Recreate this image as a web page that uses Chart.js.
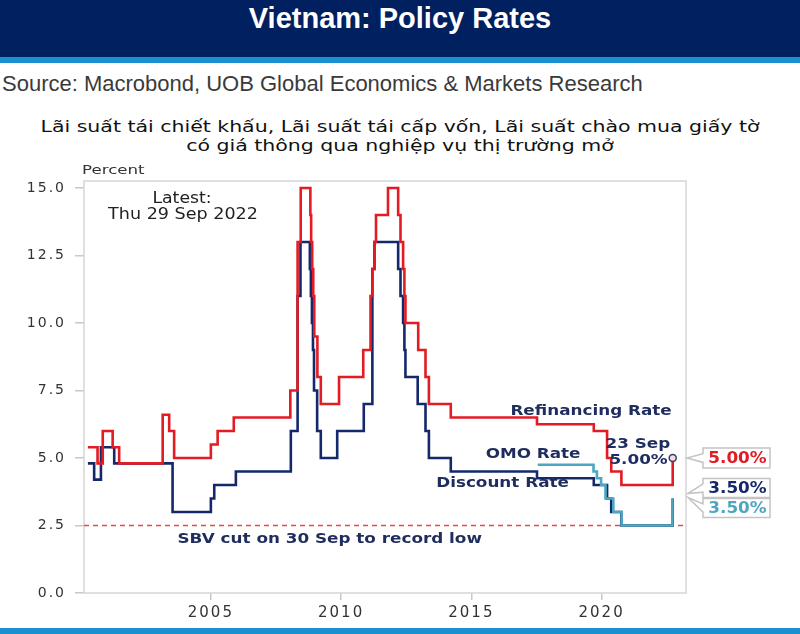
<!DOCTYPE html>
<html>
<head>
<meta charset="utf-8">
<script src="https://cdn.jsdelivr.net/npm/chart.js@4.4.0/dist/chart.umd.min.js"></script>
<style>
  body { margin: 0; width: 800px; height: 634px; overflow: hidden; background: #fff; position: relative; font-family: "Liberation Sans", Arial, sans-serif; }
  #band { position: absolute; left: 0; top: 0; width: 800px; height: 57px; background: #002060; }
  #stripe { position: absolute; left: 0; top: 57px; width: 800px; height: 6px; background: #1b8fd1; }
  #foot { position: absolute; left: 0; top: 628px; width: 800px; height: 6px; background: #1b8fd1; }
  #title { position: absolute; left: 0; top: 0; width: 800px; height: 36px; line-height: 36px; text-align: center; color: #fff; font-weight: bold; font-size: 29px; }
  #source { position: absolute; left: 2px; top: 71px; font-size: 22px; line-height: 26px; color: #3a3a3a; white-space: nowrap; }
  #subtitle { position: absolute; left: 0; top: 117px; width: 800px; text-align: center; font-family: "DejaVu Sans", sans-serif; font-size: 16px; line-height: 19px; color: #111; transform: scaleX(1.28); transform-origin: 400px 0; }
  #wrap { position: absolute; left: 0; top: 0; width: 800px; height: 634px; }
</style>
</head>
<body>
<div id="band"></div>
<div id="stripe"></div>
<div id="foot"></div>
<div id="title">Vietnam: Policy Rates</div>
<div id="source">Source: Macrobond, UOB Global Economics &amp; Markets Research</div>
<div id="subtitle">Lãi suất tái chiết khấu, Lãi suất tái cấp vốn, Lãi suất chào mua giấy tờ<br>có giá thông qua nghiệp vụ thị trường mở</div>
<div id="wrap"><canvas id="chart"></canvas></div>
<script>
// change dates (decimal years) and the rate set on that date, in percent
const refiDates = [2000.28, 2000.65, 2000.85, 2001.23, 2001.48, 2003.15, 2003.40, 2003.59, 2005.00, 2005.26, 2005.88,
  2008.05, 2008.33, 2008.45, 2008.82, 2008.85, 2008.89, 2008.93, 2008.97, 2009.09, 2009.22, 2009.92, 2010.85,
  2011.13, 2011.20, 2011.28, 2011.34, 2011.80, 2012.19, 2012.28, 2012.38, 2012.43, 2012.47, 2012.96, 2013.24,
  2013.37, 2014.21, 2017.52, 2019.70, 2020.21, 2020.37, 2020.76, 2022.73];
const refiRates = [5.4, 4.8, 6.0, 5.4, 4.8, 6.6, 6.0, 5.0, 5.5, 6.0, 6.5,
  7.5, 13, 15, 14, 13, 12, 11, 9.5, 8, 7, 8, 9,
  11, 12, 13, 14, 15, 14, 13, 12, 11, 10, 9, 8,
  7, 6.5, 6.25, 6.0, 5.0, 4.5, 4.0, 5.0];

const discDates = [2000.28, 2000.52, 2000.78, 2001.29, 2003.53, 2005.00, 2005.13, 2005.96,
  2008.07, 2008.33, 2008.44, 2008.80, 2008.84, 2008.88, 2008.92, 2008.96, 2009.08, 2009.22, 2009.85, 2010.87,
  2011.20, 2011.28, 2012.19, 2012.28, 2012.38, 2012.43, 2012.47, 2012.94, 2013.24, 2013.37, 2014.21,
  2017.52, 2019.70, 2020.21, 2020.37, 2020.76, 2022.73];
const discRates = [4.8, 4.2, 5.4, 4.8, 3.0, 3.5, 4.0, 4.5,
  6.0, 11, 13, 12, 11, 10, 9, 7.5, 6, 5, 6, 7,
  12, 13, 12, 11, 10, 9, 8, 7, 6, 5, 4.5,
  4.25, 4.0, 3.5, 3.0, 2.5, 3.5];

const omoDates = [2017.55, 2019.69, 2019.82, 2019.98, 2020.15, 2020.45, 2020.77, 2022.72];
const omoRates = [4.75, 4.5, 4.25, 4.0, 3.5, 3.0, 2.5, 3.5];

const recordLow = 2.5;
const xRange = [2000.13, 2023.24];
const yRange = [0, 15.26];
const xTicks = [2005, 2010, 2015, 2020];
const xTickLabels = ['2005', '2010', '2015', '2020'];
const yTicks = [0, 2.5, 5, 7.5, 10, 12.5, 15];
const yTickLabels = ['0.0', '2.5', '5.0', '7.5', '10.0', '12.5', '15.0'];

const red = '#e31b23';
const navy = '#14286b';
const teal = '#4ea6c0';
const noteNavy = '#1f2d5e';

function points(dates, rates) {
  return dates.map((d, i) => ({ x: d, y: rates[i] }));
}

// the reference chart is a horizontally stretched image, so notes get stretched too
function text(ctx, str, x, y, font, color, align, stretch) {
  ctx.save();
  ctx.font = font;
  ctx.fillStyle = color;
  ctx.textAlign = align || 'left';
  ctx.textBaseline = 'middle';
  ctx.translate(x, y);
  ctx.scale(stretch || 1.2, 1);
  ctx.fillText(str, 0, 0);
  ctx.restore();
}

function callout(ctx, x, top, w, h, tipX, tipY, label, color) {
  const a = top + h * 0.28, b = top + h * 0.72;
  ctx.beginPath();
  ctx.moveTo(x, a);
  ctx.lineTo(x, top);
  ctx.lineTo(x + w, top);
  ctx.lineTo(x + w, top + h);
  ctx.lineTo(x, top + h);
  ctx.lineTo(x, b);
  ctx.lineTo(tipX, tipY);
  ctx.closePath();
  ctx.fillStyle = '#fff';
  ctx.fill();
  ctx.strokeStyle = '#c4c4c4';
  ctx.lineWidth = 1.5;
  ctx.stroke();
  text(ctx, label, x + w / 2 + 1, top + h / 2 + 1, 'bold 16px "DejaVu Sans"', color, 'center', 1.05);
}

const decorations = {
  id: 'decorations',
  beforeDraw(chart) {
    chart.ctx.letterSpacing = '2px';
  },
  beforeDatasetsDraw(chart) {
    const { ctx, chartArea: a } = chart;
    ctx.save();
    ctx.strokeStyle = '#d6d6d6';
    ctx.lineWidth = 1.5;
    ctx.strokeRect(a.left, a.top, a.right - a.left, a.bottom - a.top);
    ctx.restore();
  },
  afterDatasetsDraw(chart) {
    const { ctx, chartArea: a } = chart;
    const xs = chart.scales.x, ys = chart.scales.y;
    const px = v => xs.getPixelForValue(v);
    const py = v => ys.getPixelForValue(v);
    ctx.save();
    ctx.letterSpacing = '0px';
    text(ctx, 'Percent', 82, 171, '13px "DejaVu Sans"', '#333', 'left', 1.28);
    text(ctx, 'Latest:', 182, 199, '15px "DejaVu Sans"', '#222', 'center', 1.15);
    text(ctx, 'Thu 29 Sep 2022', 183, 215, '15px "DejaVu Sans"', '#222', 'center', 1.17);

    const bold = 'bold 14px "DejaVu Sans"';
    text(ctx, 'Refinancing Rate', px(2016.5), py(6.72), bold, noteNavy);
    text(ctx, 'OMO Rate', px(2015.55), py(5.12), bold, noteNavy);
    text(ctx, 'Discount Rate', px(2013.65), py(4.07), bold, noteNavy);
    text(ctx, '23 Sep', px(2020.15), py(5.5), bold, noteNavy);
    text(ctx, '5.00%', px(2020.3), py(4.9), bold, noteNavy);
    text(ctx, 'SBV cut on 30 Sep to record low', px(2003.72), py(2.0), bold, noteNavy);

    const bx = a.right + 17;
    callout(ctx, bx, py(5.0) - 10, 67, 20, a.right + 1, py(5.0), '5.00%', red);
    callout(ctx, bx, py(3.5) - 20, 67, 19, a.right + 2, py(3.5) - 5, '3.50%', navy);
    callout(ctx, bx, py(3.5) + 0, 67, 19, a.right + 2, py(3.5) - 1, '3.50%', teal);
    ctx.restore();
  },
  afterDraw(chart) {
    chart.ctx.letterSpacing = '0px';
  }
};

const lastRefi = refiDates.length - 1;

new Chart(document.getElementById('chart'), {
  type: 'line',
  data: {
    datasets: [{
      label: 'Refinancing Rate',
      data: points(refiDates, refiRates),
      borderColor: red,
      borderWidth: 2.6,
      stepped: 'before',
      pointRadius: ctx => ctx.dataIndex === lastRefi ? 3.5 : 0,
      pointBorderColor: '#35406e',
      pointBackgroundColor: '#f3dede',
      pointBorderWidth: 1.5
    }, {
      label: 'OMO Rate',
      data: points(omoDates, omoRates),
      borderColor: teal,
      borderWidth: 2.6,
      stepped: 'before',
      pointRadius: 0
    }, {
      label: 'Discount Rate',
      data: points(discDates, discRates),
      borderColor: navy,
      borderWidth: 2.6,
      stepped: 'before',
      pointRadius: 0
    }, {
      label: 'Record low',
      data: [{ x: xRange[0], y: recordLow }, { x: xRange[1], y: recordLow }],
      borderColor: '#e54848',
      borderWidth: 1.5,
      borderDash: [5, 4],
      pointRadius: 0
    }]
  },
  options: {
    responsive: true,
    maintainAspectRatio: false,
    animation: false,
    layout: { padding: { left: 0, right: 114, top: 181, bottom: 11 } },
    plugins: {
      legend: { display: false },
      tooltip: { enabled: false }
    },
    scales: {
      x: {
        type: 'linear',
        min: xRange[0],
        max: xRange[1],
        afterBuildTicks: axis => { axis.ticks = xTicks.map(v => ({ value: v })); },
        afterFit: axis => { axis.height = 30; },
        grid: { drawOnChartArea: false, drawTicks: true, tickLength: 7, color: '#c8c8c8', lineWidth: 1.5 },
        border: { display: false },
        ticks: {
          padding: 4,
          color: '#333',
          font: { family: 'DejaVu Sans', size: 15 },
          maxRotation: 0,
          callback: (v, i) => xTickLabels[i]
        }
      },
      y: {
        min: yRange[0],
        max: yRange[1],
        afterBuildTicks: axis => { axis.ticks = yTicks.map(v => ({ value: v })); },
        afterFit: axis => { axis.width = 84; },
        grid: { drawOnChartArea: false, drawTicks: true, tickLength: 9, color: '#c8c8c8', lineWidth: 1.5 },
        border: { display: false },
        ticks: {
          padding: 9,
          color: '#333',
          font: { family: 'DejaVu Sans', size: 14 },
          callback: (v, i) => yTickLabels[i]
        }
      }
    }
  },
  plugins: [decorations]
});
</script>
</body>
</html>
